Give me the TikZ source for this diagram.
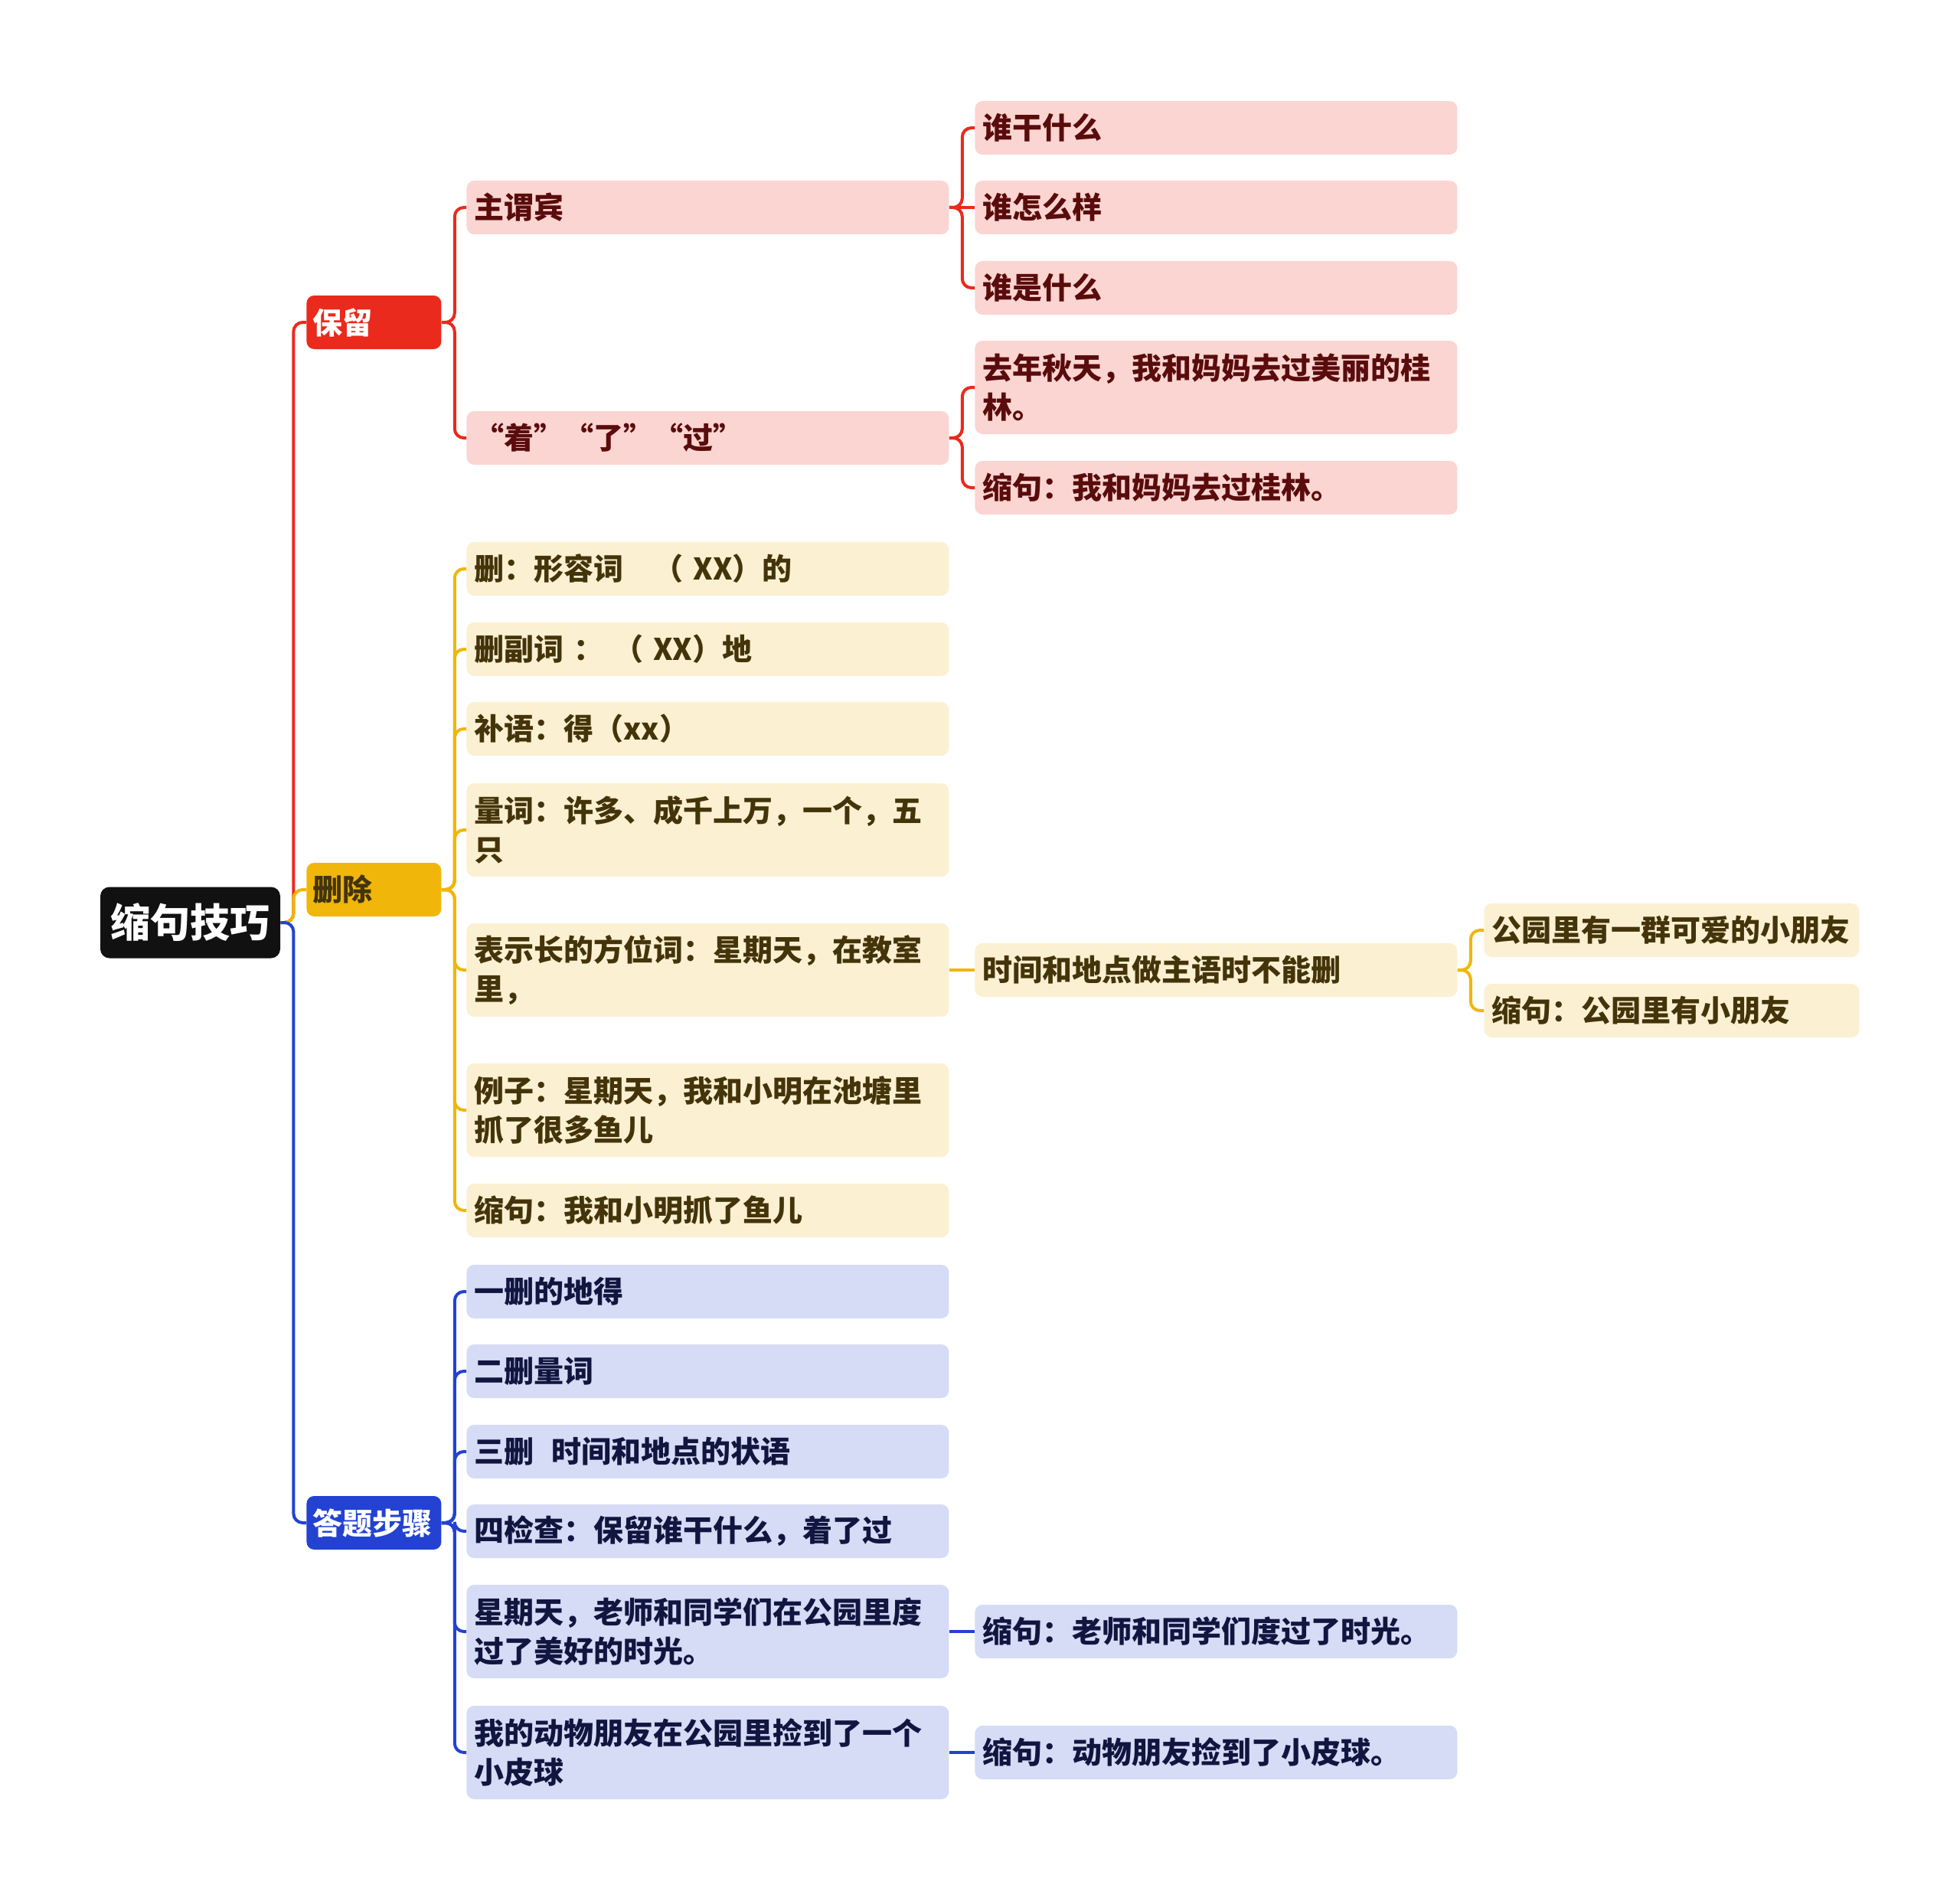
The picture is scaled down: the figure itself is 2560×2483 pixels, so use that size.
\documentclass[tikz,border=0pt]{standalone}
\usepackage{fontspec}
\setmainfont{Noto Sans CJK SC}[BoldFont={Noto Sans CJK SC Black}]
\definecolor{redMain}{HTML}{EA2A1C}
\definecolor{redLight}{HTML}{FBD5D1}
\definecolor{redText}{HTML}{5A0C0C}
\definecolor{yelMain}{HTML}{F0B60A}
\definecolor{yelLight}{HTML}{FCF0D2}
\definecolor{yelText}{HTML}{43340A}
\definecolor{bluMain}{HTML}{2342D2}
\definecolor{bluLight}{HTML}{D6DBF6}
\definecolor{bluText}{HTML}{10163F}
\definecolor{rootFill}{HTML}{111111}
\newcommand\nodefont{\fontsize{19.5pt}{25.3pt}\selectfont\bfseries}
\newcommand\rootfont{\fontsize{26pt}{30pt}\selectfont\bfseries}
\tikzset{
  box/.style={anchor=west, rounded corners=5pt, inner xsep=5pt, inner ysep=0pt,
    align=left, font=\nodefont, minimum height=35pt},
  lone/.style={box, text width=80pt, inner xsep=4pt},
  ltwo/.style={box, text width=305pt},
  lfour/.style={box, text width=235pt},
  tall/.style={minimum height=61pt},
  redone/.style={lone, fill=redMain, text=white},
  yelone/.style={lone, fill=yelMain, text=yelText},
  bluone/.style={lone, fill=bluMain, text=white},
  redbox/.style={fill=redLight, text=redText},
  yelbox/.style={fill=yelLight, text=yelText},
  blubox/.style={fill=bluLight, text=bluText},
  link/.style={line width=2pt, rounded corners=6pt},
  redline/.style={link, draw=redMain},
  yelline/.style={link, draw=yelMain},
  bluline/.style={link, draw=bluMain},
}
\newcommand\conn[3]{\draw[#1] (#2.east) -- ++(8.5pt,0) |- (#3.west);}
\newcommand\connS[3]{\draw[#1] (#2.east) -- (#3.west);}
\begin{document}
\begin{tikzpicture}[x=0.5pt,y=-0.5pt]
\useasboundingbox (0,0) rectangle (2560,2483);
\fill[white] (0,0) rectangle (2560,2483);

% root
\node[rounded corners=6pt, fill=rootFill, text=white, font=\rootfont,
  minimum width=117.5pt, minimum height=46.5pt, inner sep=0pt] (root) at (248.5,1205) {缩句技巧};

% level 1
\node[redone] (A) at (400,421) {保留};
\node[yelone] (B) at (400,1162) {删除};
\node[bluone] (C) at (400,1989) {答题步骤};

% red branch
\node[ltwo, redbox] (A1) at (609,271) {主谓宾};
\node[ltwo, redbox] (A2) at (609,572) {“着”“了”“过”};
\node[ltwo, redbox] (A11) at (1273,167) {谁干什么};
\node[ltwo, redbox] (A12) at (1273,271) {谁怎么样};
\node[ltwo, redbox] (A13) at (1273,376) {谁是什么};
\node[ltwo, redbox, tall] (A21) at (1273,506) {去年秋天，我和妈妈去过美丽的桂\\林。};
\node[ltwo, redbox] (A22) at (1273,637) {缩句：我和妈妈去过桂林。};

% yellow branch
\node[ltwo, yelbox] (B1) at (609,743) {删：形容词　（ XX）的};
\node[ltwo, yelbox] (B2) at (609,848) {删副词 ： （ XX）地};
\node[ltwo, yelbox] (B3) at (609,952) {补语：得（xx）};
\node[ltwo, yelbox, tall] (B4) at (609,1084) {量词：许多、成千上万，一个，五\\只};
\node[ltwo, yelbox, tall] (B5) at (609,1267) {表示长的方位词：星期天，在教室\\里，};
\node[ltwo, yelbox, tall] (B6) at (609,1450) {例子：星期天，我和小明在池塘里\\抓了很多鱼儿};
\node[ltwo, yelbox] (B7) at (609,1581) {缩句：我和小明抓了鱼儿};
\node[ltwo, yelbox] (B51) at (1273,1267) {时间和地点做主语时不能删};
\node[lfour, yelbox] (B511) at (1938,1215) {公园里有一群可爱的小朋友};
\node[lfour, yelbox] (B512) at (1938,1320) {缩句：公园里有小朋友};

% blue branch
\node[ltwo, blubox] (C1) at (609,1687) {一删的地得};
\node[ltwo, blubox] (C2) at (609,1791) {二删量词};
\node[ltwo, blubox] (C3) at (609,1896) {三删\hspace{0.6em}时间和地点的状语};
\node[ltwo, blubox] (C4) at (609,2000) {四检查：保留谁干什么，着了过};
\node[ltwo, blubox, tall] (C5) at (609,2131) {星期天，老师和同学们在公园里度\\过了美好的时光。};
\node[ltwo, blubox, tall] (C6) at (609,2289) {我的动物朋友在公园里捡到了一个\\小皮球};
\node[ltwo, blubox] (C51) at (1273,2131) {缩句：老师和同学们度过了时光。};
\node[ltwo, blubox] (C61) at (1273,2289) {缩句：动物朋友捡到了小皮球。};

% connectors
\conn{redline}{root}{A}
\conn{yelline}{root}{B}
\conn{bluline}{root}{C}
\conn{redline}{A}{A1}
\conn{redline}{A}{A2}
\conn{redline}{A1}{A11}
\connS{redline}{A1}{A12}
\conn{redline}{A1}{A13}
\conn{redline}{A2}{A21}
\conn{redline}{A2}{A22}
\conn{yelline}{B}{B1}
\conn{yelline}{B}{B2}
\conn{yelline}{B}{B3}
\conn{yelline}{B}{B4}
\conn{yelline}{B}{B5}
\conn{yelline}{B}{B6}
\conn{yelline}{B}{B7}
\connS{yelline}{B5}{B51}
\conn{yelline}{B51}{B511}
\conn{yelline}{B51}{B512}
\conn{bluline}{C}{C1}
\conn{bluline}{C}{C2}
\conn{bluline}{C}{C3}
\conn{bluline}{C}{C4}
\conn{bluline}{C}{C5}
\conn{bluline}{C}{C6}
\connS{bluline}{C5}{C51}
\connS{bluline}{C6}{C61}
\end{tikzpicture}
\end{document}
